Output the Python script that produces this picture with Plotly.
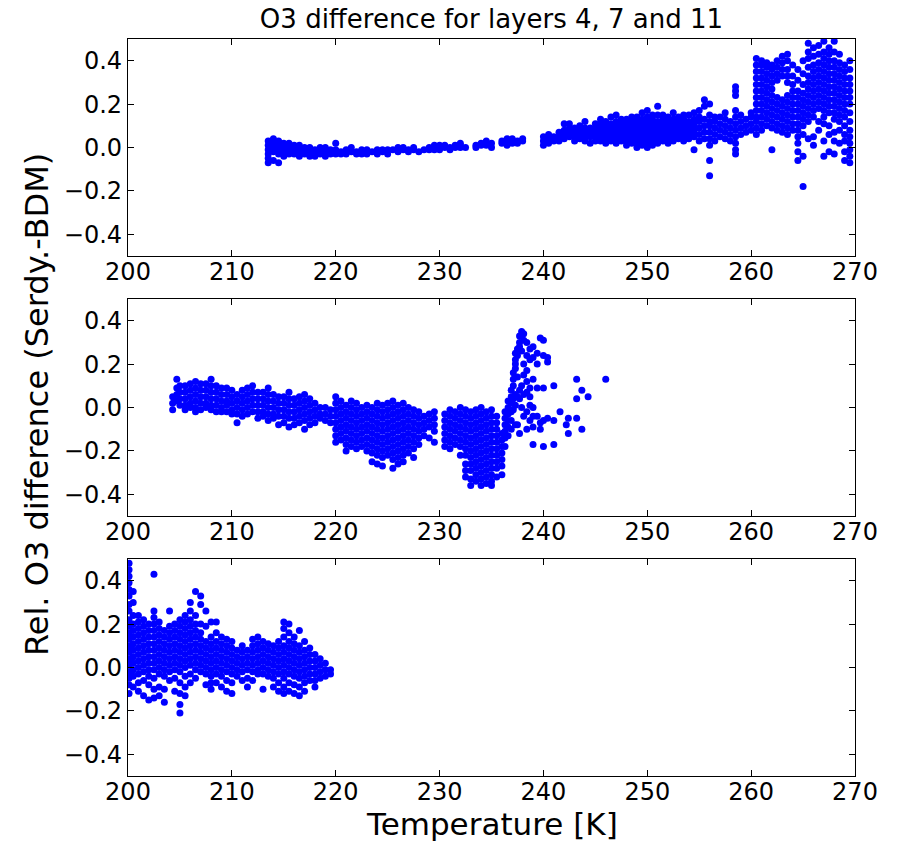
import plotly.graph_objects as go

# ---------------- data (temperature [K], rel. O3 difference in hundredths) -------------
top_temp = [213.5, 214.0, 214.5, 215.0, 215.5, 216.0, 216.5, 217.0, 217.5, 218.0,
            218.5, 219.0, 219.5, 220.0, 220.5, 221.0, 221.5, 222.0, 222.5, 223.0,
            223.5, 224.0, 224.5, 225.0, 225.5, 226.0, 226.5, 227.0, 227.5, 228.0,
            228.5, 229.0, 229.5, 230.0, 230.5, 231.0, 231.5, 232.0, 232.5, 233.5,
            234.0, 234.5, 235.0, 236.0, 236.5, 237.0, 237.5, 238.0, 240.0, 240.5,
            241.0, 241.5, 242.0, 242.5, 243.0, 243.5, 244.0, 244.5, 245.0, 245.5,
            246.0, 246.5, 247.0, 247.5, 248.0, 248.5, 249.0, 249.5, 250.0, 250.5,
            251.0, 251.5, 252.0, 252.5, 253.0, 253.5, 254.0, 254.5, 255.0, 255.5,
            256.0, 256.5, 257.0, 257.5, 258.0, 258.5, 259.0, 259.5, 260.0, 260.5,
            261.0, 261.5, 262.0, 262.5, 263.0, 263.5, 264.0, 264.5, 265.0, 265.5,
            266.0, 266.5, 267.0, 267.5, 268.0, 268.5, 269.0, 269.5]
top_diff = [
    [-7, -5, -3, -1, 1, 3], [-6, -2, 0, 2, 4], [-7, -3, -1, 1, 3], [-4, -2, 0, 2],
    [-3, -1, 1, 2], [-3, -1, 1], [-4, -2, 0, 1], [-3, -1, 0], [-4, -2, 0], [-4, -2, -1],
    [-3, -1, 0], [-4, -2, 0], [-3, -1], [-3, -1, 2], [-3, -2], [-3, -1], [-2, 0], [-3, -2],
    [-3, -1], [-3, -1], [-2], [-3, -1], [-2, -1], [-3, -1], [-1], [-2, 0], [-1, 0],
    [-2, -1], [-1, 0], [-2], [-1], [-1, 0], [-1, 1], [-1, 0, 1], [0, 1], [-1, 0], [0, 1],
    [0, 1, 2], [0], [0, 1], [1, 2], [1, 3], [0, 2], [2, 3], [1, 3, 4], [2, 4], [2, 3],
    [3, 4], [1, 3, 5], [2, 4, 6], [3, 5], [3, 5, 7], [4, 6, 8, 11], [5, 7, 9, 11],
    [3, 5, 7, 9], [4, 6, 8, 10], [3, 5, 7, 9, 12], [2, 5, 7, 9], [3, 5, 7, 9, 11],
    [3, 5, 7, 9, 11, 13], [2, 4, 6, 8, 10, 12], [3, 5, 7, 9, 11, 14],
    [2, 4, 6, 8, 10, 12, 15], [3, 5, 7, 9, 11, 13], [1, 3, 5, 7, 9, 11, 13],
    [2, 4, 6, 8, 10, 12, 14], [0, 2, 4, 6, 8, 10, 12, 14], [1, 3, 5, 7, 9, 11, 13, 16],
    [0, 2, 4, 6, 8, 10, 12, 14, 17], [1, 3, 5, 7, 9, 11, 13, 15],
    [2, 4, 6, 8, 10, 12, 15, 19], [3, 5, 7, 9, 11, 13, 15], [2, 4, 6, 8, 10, 12, 14],
    [3, 5, 7, 9, 11, 13, 16], [4, 6, 8, 10, 12, 14], [3, 5, 7, 9, 11, 13, 15],
    [4, 6, 8, 10, 12, 15], [-1, 5, 7, 9, 11, 13, 16], [3, 6, 9, 12, 14, 17],
    [4, 7, 10, 13, 19, 22], [-13, -6, 1, 4, 7, 10, 12, 15, 20], [3, 6, 9, 12, 14],
    [5, 8, 11, 14], [4, 7, 10, 13, 16], [3, 6, 9, 12],
    [-3, -1, 2, 5, 8, 11, 14, 17, 24, 26, 28], [6, 9, 12, 15], [7, 10, 13],
    [8, 11, 14, 16],
    [6, 9, 12, 14, 17, 20, 23, 26, 29, 32, 35, 38, 41],
    [8, 11, 14, 17, 20, 23, 26, 29, 32, 35, 38, 40],
    [10, 13, 16, 19, 22, 25, 28, 31, 34, 37, 39],
    [-1, 9, 12, 15, 18, 21, 24, 27, 30, 33, 36, 38],
    [8, 11, 14, 17, 20, 23, 31, 34, 37, 40],
    [7, 10, 13, 16, 19, 22, 33, 36, 39, 42],
    [6, 9, 12, 15, 18, 21, 24, 30, 33, 36, 40, 43],
    [8, 11, 14, 17, 20, 23, 26, 29, 33, 38],
    [-6, -2, 2, 5, 8, 11, 14, 17, 20, 23, 26, 31, 36],
    [-18, -4, 6, 10, 13, 16, 19, 22, 25, 29, 34, 40],
    [4, 12, 15, 18, 21, 24, 27, 30, 33, 37, 41, 44, 48],
    [1, 5, 14, 17, 20, 23, 26, 29, 32, 35, 38, 42, 46],
    [8, 12, 18, 21, 24, 27, 30, 33, 36, 39, 43, 47],
    [-4, 3, 11, 14, 17, 20, 23, 26, 29, 32, 35, 38, 41, 44, 49],
    [-2, 6, 10, 16, 19, 22, 25, 28, 31, 34, 37, 40, 43, 46],
    [-3, 3, 7, 13, 16, 19, 22, 25, 28, 31, 34, 37, 40, 44, 49],
    [2, 8, 12, 15, 18, 21, 24, 27, 30, 33, 36, 39, 43],
    [-6, -2, 3, 6, 10, 14, 17, 20, 23, 26, 29, 32, 35, 38],
    [-7, -4, -1, 2, 5, 8, 12, 16, 20, 23, 26, 29, 32, 36, 40],
]

mid_temp = [204.3, 204.7, 205.0, 205.5, 206.0, 206.5, 207.0, 207.5, 208.0, 208.5,
            209.0, 209.5, 210.0, 210.5, 211.0, 211.5, 212.0, 212.5, 213.0, 213.5,
            214.0, 214.5, 215.0, 215.5, 216.0, 216.5, 217.0, 217.5, 218.0, 218.5,
            219.0, 219.5, 220.0, 220.5, 221.0, 221.5, 222.0, 222.5, 223.0, 223.5,
            224.0, 224.5, 225.0, 225.5, 226.0, 226.5, 227.0, 227.5, 228.0, 228.5,
            229.0, 229.5, 230.5, 231.0, 231.5, 232.0, 232.5, 233.0, 233.5, 234.0,
            234.5, 235.0, 235.5, 236.0, 236.3, 236.6, 236.9, 237.1, 237.3, 237.5,
            237.7, 237.9, 238.1, 238.4, 238.7, 239.0, 239.4, 239.7, 240.0, 240.4,
            241.0, 241.6, 242.2, 242.4, 243.2, 243.7, 244.3, 246.0]
mid_diff = [
    [5, 2, -1], [13, 9, 6, 3], [10, 7, 4, 1], [10, 7, 4, 1, -1], [11, 8, 5, 2, 0],
    [12, 9, 6, 3, 0, -2], [11, 8, 5, 2, -1], [11, 8, 5, 2, 0], [13, 10, 7, 4, 1, -1],
    [10, 7, 4, 1, -2], [9, 6, 3, 0, -2], [9, 6, 3, 1, -2], [8, 5, 2, -1, -3],
    [6, 3, 0, -3, -7], [8, 5, 2, -1, -4], [9, 6, 3, 0, -3], [10, 7, 4, 1, -2],
    [7, 4, 1, -2, -5], [7, 4, 1, -2, -4], [9, 6, 3, 0, -3, -6], [6, 3, 0, -3, -5],
    [5, 2, -1, -4, -8], [5, 2, -1, -4, -7], [7, 4, 1, -2, -5, -9], [4, 1, -2, -5, -8],
    [5, 2, -1, -4, -7], [6, 3, 0, -3, -6, -10], [4, 1, -2, -5, -8], [2, -1, -4, -7],
    [0, -3, -5], [0, -3, -6], [-1, -4, -7],
    [5, 2, -1, -4, -7, -10, -13, -16], [3, 0, -3, -6, -9, -12, -15],
    [1, -2, -5, -8, -11, -14, -17, -20], [3, 0, -3, -6, -9, -12, -15, -18],
    [2, -1, -4, -7, -10, -13, -16, -19], [0, -3, -6, -9, -12, -15, -18],
    [1, -2, -5, -8, -11, -14, -17, -20], [0, -3, -6, -9, -12, -15, -18, -21, -25],
    [2, -1, -4, -7, -10, -13, -16, -19, -22, -26],
    [1, -2, -5, -8, -11, -14, -17, -20, -23, -27],
    [2, -1, -4, -7, -10, -13, -16, -19, -22],
    [3, 0, -3, -6, -9, -12, -15, -18, -21, -24, -28],
    [1, -2, -5, -8, -11, -14, -17, -20, -23, -26],
    [2, -1, -4, -7, -10, -13, -16, -19, -22, -25],
    [0, -3, -6, -9, -12, -15, -18, -21], [-1, -4, -7, -10, -13, -16, -19, -23],
    [-2, -5, -8, -11, -14, -17], [-4, -7, -10, -13], [-3, -6, -9, -14],
    [-2, -5, -8, -11, -16], [-3, -6, -9, -12, -15, -18],
    [-1, -4, -7, -10, -13, -16, -19], [-2, -5, -8, -11, -14, -17],
    [0, -3, -6, -9, -12, -15, -18, -22],
    [-1, -4, -7, -10, -13, -16, -19, -22, -26, -29, -32],
    [-2, -5, -8, -11, -14, -17, -20, -23, -26, -29, -33, -36],
    [-1, -4, -7, -10, -13, -16, -19, -22, -25, -28, -31, -34],
    [0, -3, -6, -9, -12, -15, -18, -21, -24, -27, -30, -33, -36],
    [-2, -5, -8, -11, -14, -17, -20, -23, -26, -29, -32, -35],
    [-1, -4, -7, -10, -13, -16, -19, -22, -25, -28, -31, -34, -36],
    [-4, -7, -10, -13, -16, -19, -22, -25, -28, -32],
    [-12, -15, -18, -21, -24, -27, -31], [-2, -5, -8, -11, -14, -18],
    [0, 3, -3, -6, -9, -13], [5, 8, 2, -2, -6, -10], [10, 13, 16, 4, -1],
    [20, 18, 22, 25, 6, 1, -8], [24, 27, 14, 5, -8], [30, 33, 28, 8, 4, -12],
    [35, 33, 26, 0, 10], [34, 31, 20, 15, -4, 6], [30, 24, 17, 12, 7, -2, -10],
    [22, 27, 9, 5, 1, -6], [28, 23, 13, 0, -4, -9, -17], [25, 20, -4, 9],
    [32, -7, -10], [31, 24, 9, -6, -18], [21, 23, -5], [10, -6, -17], [-2], [-8],
    [-5, -12], [13, 4, -5], [8, -10], [5], [13],
]

bot_temp = [200.1, 200.5, 201.0, 201.5, 202.0, 202.5, 203.0, 203.5, 204.0, 204.5,
            205.0, 205.5, 206.0, 206.5, 207.0, 207.5, 208.0, 208.5, 209.0, 209.5,
            210.0, 210.5, 211.0, 211.5, 212.0, 212.5, 213.0, 213.5, 214.0, 214.5,
            215.0, 215.5, 216.0, 216.5, 217.0, 217.5, 218.0, 218.5, 219.0, 219.5]
bot_diff = [
    [48, 45, 42, 39, 36, 33, 29, 26, 22, 19, 16, 13, 10, 7, 4, 1, -2, -5, -8, -12],
    [35, 30, 24, 20, 17, 14, 11, 8, 5, 2, -1, -4, -9],
    [24, 21, 18, 15, 12, 9, 6, 3, 0, -3, -7, -11],
    [22, 19, 16, 13, 10, 7, 4, 1, -2, -6, -13],
    [20, 17, 14, 11, 8, 5, 2, -1, -4, -8, -15],
    [43, 26, 23, 20, 17, 14, 11, 8, 5, 2, -1, -5, -10, -14],
    [21, 18, 15, 12, 9, 6, 3, 0, -3, -9, -13],
    [17, 14, 11, 8, 5, 2, -1, -4, -10, -16],
    [26, 19, 16, 13, 10, 7, 4, 1, -2, -6],
    [20, 17, 14, 11, 8, 5, 2, -1, -5, -11],
    [22, 19, 16, 13, 10, 7, 4, 1, -2, -7, -12, -17, -21],
    [24, 21, 18, 15, 12, 9, 6, 3, 0, -4, -9, -13],
    [30, 26, 22, 19, 16, 13, 10, 7, 4, 1, -3, -7],
    [35, 24, 20, 17, 14, 11, 8, 5, 2, -1, -5],
    [33, 29, 20, 16, 13, 10, 7, 4, 1, -2],
    [26, 19, 12, 9, 6, 3, 0, -3, -8],
    [21, 14, 11, 8, 5, 2, -1, -4, -7, -10],
    [21, 16, 12, 9, 6, 3, 0, -3, -7],
    [14, 11, 8, 5, 2, -1, -4, -9],
    [13, 10, 7, 4, 1, -2, -6, -11],
    [12, 9, 6, 3, 0, -3, -7, -12],
    [8, 5, 2, -1, -4],
    [10, 7, 4, 1, -2, -6],
    [8, 5, 2, -1, -5, -9],
    [13, 10, 7, 4, 1, -2, -6],
    [14, 11, 8, 5, 2, -1, -3],
    [12, 9, 6, 3, 0, -3, -10],
    [11, 8, 5, 2, -1, -4],
    [10, 7, 4, 1, -2, -5, -9],
    [12, 9, 6, 3, 0, -3, -7, -11],
    [21, 18, 14, 10, 7, 4, 1, -2, -5, -9, -12],
    [20, 16, 12, 9, 6, 3, 0, -3, -7, -11],
    [14, 11, 8, 5, 2, -1, -4, -8, -12],
    [17, 10, 7, 4, 1, -2, -5, -9, -13],
    [12, 8, 5, 2, -1, -4, -7, -11],
    [9, 6, 3, 0, -3, -6],
    [6, 3, 0, -3, -6, -9],
    [4, 1, -2, -5],
    [2, -1, -4],
    [-1, -3],
]

x_ticks = [200, 210, 220, 230, 240, 250, 260, 270]
y_ticks = [-0.4, -0.2, 0.0, 0.2, 0.4]
title_text = "O3 difference for layers 4, 7 and 11"
x_label = "Temperature [K]"
y_label = "Rel. O3 difference (Serdy.-BDM)"


def flatten(temps, diffs):
    assert len(temps) == len(diffs)
    xs, ys = [], []
    for t, col in zip(temps, diffs):
        for v in col:
            xs.append(t)
            ys.append(v / 100.0)
    return xs, ys


panels = [flatten(top_temp, top_diff), flatten(mid_temp, mid_diff), flatten(bot_temp, bot_diff)]

W, H = 899, 845
# desired window-pixel positions of the axes frames
AX_L, AX_R = 128, 855
panel_px = [(39, 256), (299, 516), (559, 776)]
ML = AX_L
MR = W - AX_R
MT = panel_px[0][0]
MB = H - panel_px[2][1]
plot_h = H - MT - MB
plot_w = W - ML - MR


def py_to_paper(py):
    return (H - MB - py) / plot_h


fig = go.Figure()
font_family = "DejaVu Sans"
for i, (xs, ys) in enumerate(panels):
    sfx = "" if i == 0 else str(i + 1)
    fig.add_trace(go.Scatter(
        x=xs, y=ys, mode="markers", xaxis="x" + sfx, yaxis="y" + sfx,
        marker=dict(color="#0000ff", size=7, line=dict(width=0)),
        showlegend=False, hoverinfo="skip"))
    top, bot = panel_px[i]
    dom = [py_to_paper(bot), py_to_paper(top)]
    axcommon = dict(showline=True, linecolor="black", linewidth=1.3, mirror="ticks",
                    ticks="inside", ticklen=6, tickwidth=1, tickcolor="black",
                    showgrid=False, zeroline=False,
                    tickfont=dict(family=font_family, size=24, color="black"))
    fig.layout["xaxis" + sfx] = dict(axcommon, range=[200, 270], tickvals=x_ticks,
                                     anchor="y" + sfx, domain=[0, 1],
                                     ticklabelstandoff=-6)
    fig.layout["yaxis" + sfx] = dict(axcommon, range=[-0.5, 0.5], tickvals=y_ticks,
                                     tickformat=".1f", anchor="x" + sfx, domain=dom)

fig.update_layout(
    width=W, height=H,
    margin=dict(l=ML, r=MR, t=MT, b=MB, autoexpand=False),
    plot_bgcolor="white", paper_bgcolor="white",
    font=dict(family=font_family, color="black"),
    title=dict(text=title_text, x=(AX_L + AX_R) / 2 / W, xanchor="center",
               y=1 - 19 / H, yanchor="middle",
               font=dict(family=font_family, size=26, color="black")),
    annotations=[
        dict(text=x_label, xref="paper", yref="paper", x=0.5, y=py_to_paper(824),
             xanchor="center", yanchor="middle", showarrow=False,
             font=dict(family=font_family, size=31, color="black")),
        dict(text=y_label, xref="paper", yref="paper", x=(37 - AX_L) / plot_w,
             y=py_to_paper(405), xanchor="center", yanchor="middle",
             textangle=-90, showarrow=False,
             font=dict(family=font_family, size=32, color="black")),
    ],
)

fig.write_html("out.html", config={"displayModeBar": False},
               post_script="document.body.style.margin='0';")
